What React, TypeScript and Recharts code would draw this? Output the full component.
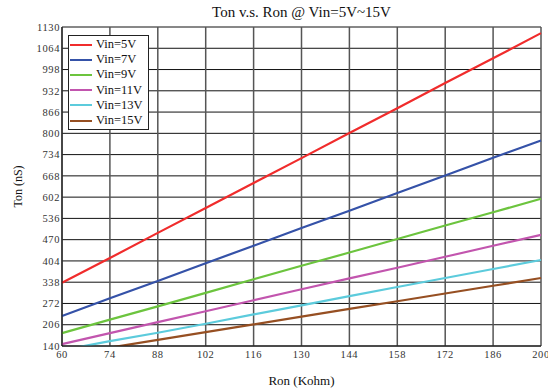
import React from 'react';
import { LineChart, Line, XAxis, YAxis, CartesianGrid, Label } from 'recharts';

const ron = [60, 74, 88, 102, 116, 130, 144, 158, 172, 186, 200];
const vin5 = [336, 413, 491, 568, 646, 723, 801, 878, 956, 1033, 1111];
const vin7 = [233, 288, 342, 397, 451, 506, 560, 615, 669, 724, 778];
const vin9 = [180, 222, 263, 305, 347, 389, 430, 472, 514, 555, 597];
const vin11 = [146, 180, 214, 248, 282, 316, 350, 383, 417, 451, 485];
const vin13 = [127, 155, 181, 209, 238, 266, 295, 323, 351, 379, 407];
const vin15 = [111, 135, 159, 183, 207, 231, 255, 279, 303, 327, 351];

const xTicks = [60, 74, 88, 102, 116, 130, 144, 158, 172, 186, 200];
const yTicks = [140, 206, 272, 338, 404, 470, 536, 602, 668, 734, 800, 866, 932, 998, 1064, 1130];

const series = [
  { key: 'v5', name: 'Vin=5V', values: vin5, color: '#f02c2c' },
  { key: 'v7', name: 'Vin=7V', values: vin7, color: '#3552a8' },
  { key: 'v9', name: 'Vin=9V', values: vin9, color: '#6cc43e' },
  { key: 'v11', name: 'Vin=11V', values: vin11, color: '#c255ae' },
  { key: 'v13', name: 'Vin=13V', values: vin13, color: '#5ccbdc' },
  { key: 'v15', name: 'Vin=15V', values: vin15, color: '#964f22' },
];

const data = ron.map((r, i) => {
  const row: Record<string, number> = { ron: r };
  series.forEach((s) => { row[s.key] = s.values[i]; });
  return row;
});

const font = "'Liberation Serif', 'DejaVu Serif', serif";

export default function App() {
  return (
    <div style={{ position: 'fixed', left: 0, top: 0, width: 548, height: 390, background: '#fff' }}>
      <div style={{ position: 'absolute', top: 4, left: 62, width: 479, textAlign: 'center', fontFamily: font, fontSize: 15, color: '#111' }}>
        Ton v.s. Ron @ Vin=5V~15V
      </div>
      <LineChart width={548} height={390} data={data} margin={{ top: 27, right: 7, left: 0, bottom: 0 }}>
        <CartesianGrid horizontal={true} vertical={false} stroke="#111" strokeWidth={1} />
        <CartesianGrid horizontal={false} vertical={true} stroke="#555" strokeWidth={1.5} />
        <XAxis
          dataKey="ron"
          type="number"
          domain={[60, 200]}
          ticks={xTicks}
          interval={0}
          height={44}
          tickSize={0}
          tickMargin={5}
          axisLine={{ stroke: '#111' }}
          tick={{ fill: '#333', fontSize: 10.5, fontFamily: font, letterSpacing: 0.6 }}
        >
          <Label value="Ron (Kohm)" position="insideBottom" offset={5} style={{ fill: '#111', fontSize: 13, fontFamily: font }} />
        </XAxis>
        <YAxis
          type="number"
          domain={[140, 1130]}
          ticks={yTicks}
          interval={0}
          allowDataOverflow
          width={62}
          tickSize={0}
          tickMargin={2}
          axisLine={{ stroke: '#111' }}
          tick={{ fill: '#333', fontSize: 10.5, fontFamily: font, letterSpacing: 0.6 }}
        >
          <Label value="Ton (nS)" angle={-90} position="insideLeft" offset={18} style={{ fill: '#111', fontSize: 12, fontFamily: font, textAnchor: 'middle' }} />
        </YAxis>
        {series.map((s) => (
          <Line
            key={s.key}
            dataKey={s.key}
            name={s.name}
            type="linear"
            stroke={s.color}
            strokeWidth={2.2}
            dot={false}
            isAnimationActive={false}
          />
        ))}
      </LineChart>
      <div style={{ position: 'absolute', left: 68, top: 35, border: '1px solid #222', background: '#fff', padding: '1px 5px 1px 1px', fontFamily: font }}>
        {series.map((s) => (
          <div key={s.key} style={{ display: 'flex', alignItems: 'center', height: 15.2, fontSize: 12.5, color: '#111', whiteSpace: 'nowrap' }}>
            <span style={{ display: 'inline-block', width: 22, height: 2, background: s.color, marginRight: 4 }} />
            <span>{s.name}</span>
          </div>
        ))}
      </div>
    </div>
  );
}
